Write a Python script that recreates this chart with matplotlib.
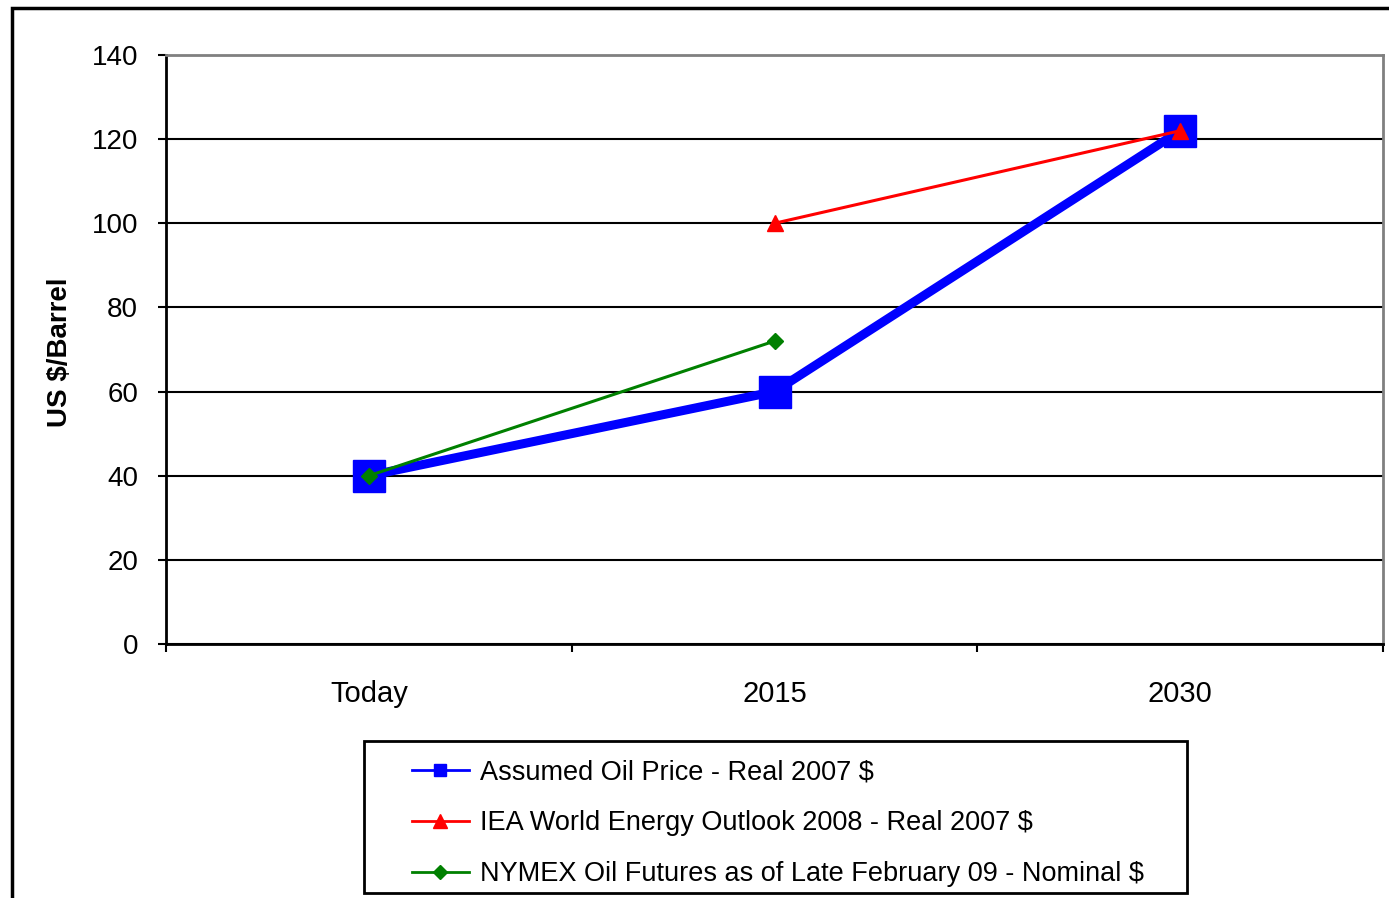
import matplotlib.pyplot as plt
from matplotlib.lines import Line2D
from matplotlib.patches import Rectangle

categories = ['Today', '2015', '2030']
assumed_price = [40, 60, 122]
iea_outlook = [None, 100, 122]
nymex_futures = [40, 72, None]

plt.rcParams['font.family'] = ['Liberation Sans', 'DejaVu Sans']

W, H = 1389, 898
fig = plt.figure(figsize=(W / 100, H / 100), dpi=100)
ax = fig.add_axes([166 / W, 1 - 644 / H, 1217 / W, 589 / H])

x = list(range(len(categories)))

ax.plot(x, assumed_price, color='#0000ff', lw=6.5, marker='s', ms=23,
        solid_joinstyle='miter', zorder=3)
ax.plot(x[1:], iea_outlook[1:], color='#ff0000', lw=2.2, marker='^', ms=12, zorder=4)
ax.plot(x[:2], nymex_futures[:2], color='#008000', lw=2.2, marker='D', ms=8, zorder=4)

ax.set_xlim(-0.5, 2.5)
ax.set_ylim(0, 140)
ax.set_yticks(range(0, 141, 20))
ax.set_xticks(x)
ax.set_xticklabels(categories)
ax.set_xticks([-0.5, 0.5, 1.5, 2.5], minor=True)
ax.tick_params(axis='x', which='major', length=0, pad=26, labelsize=21)
ax.tick_params(axis='x', which='minor', length=6, width=1.5, direction='out')
ax.tick_params(axis='y', length=6, width=1.5, direction='out', pad=14, labelsize=20)

ax.grid(axis='y', color='black', lw=1.5)
ax.set_axisbelow(True)
for side in ('top', 'right'):
    ax.spines[side].set_color('#808080')
    ax.spines[side].set_linewidth(2)
for side in ('left', 'bottom'):
    ax.spines[side].set_color('black')
    ax.spines[side].set_linewidth(2)

fig.text(60 / W, 1 - 352 / H, 'US $/Barrel', rotation=90, fontsize=20,
         fontweight='bold', ha='center', va='center')

# outer chart border
fig.patches.append(Rectangle((12 / W, -0.05), 1.1, 1 - 8 / H + 0.05,
                             transform=fig.transFigure, fill=False,
                             edgecolor='black', lw=2.5, zorder=0))

# legend box
fig.patches.append(Rectangle((364 / W, 1 - 893 / H), 823 / W, 152 / H,
                             transform=fig.transFigure, fill=True,
                             facecolor='white', edgecolor='black', lw=2, zorder=1))

handles = [
    Line2D([], [], color='#0000ff', lw=2, marker='s', ms=9),
    Line2D([], [], color='#ff0000', lw=2, marker='^', ms=10),
    Line2D([], [], color='#008000', lw=2, marker='D', ms=7),
]
labels = [
    'Assumed Oil Price - Real 2007 $',
    'IEA World Energy Outlook 2008 - Real 2007 $',
    'NYMEX Oil Futures as of Late February 09 - Nominal $',
]
leg = fig.legend(handles, labels, loc='upper left',
                 bbox_to_anchor=(412 / W, 1 - 759 / H),
                 fontsize=19.5, handlelength=2.1, labelspacing=0.93,
                 borderpad=0, borderaxespad=0, handletextpad=0.4,
                 frameon=False)
leg.set_zorder(2)

fig.savefig('out.png', dpi=100)
